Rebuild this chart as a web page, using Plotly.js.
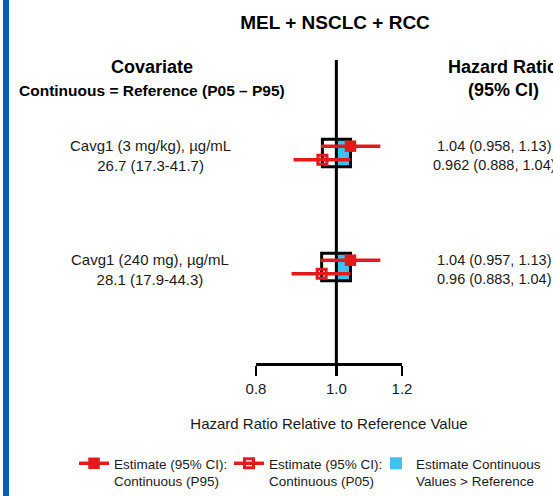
<!DOCTYPE html>
<html>
<head>
<meta charset="utf-8">
<script src="https://cdn.plot.ly/plotly-3.0.1.min.js"></script>
<style>
  html, body { margin: 0; padding: 0; background: #fff; }
  #chart { width: 553px; height: 496px; }
</style>
</head>
<body>
<div id="chart"></div>
<script>
// ---- Data ----
const covariates = ["Cavg1 (3 mg/kg), \u00b5g/mL", "Cavg1 (240 mg), \u00b5g/mL"];
const referenceValues = ["26.7 (17.3-41.7)", "28.1 (17.9-44.3)"];
const p95Estimate = [1.04, 1.04];
const p95Lower = [0.958, 0.957];
const p95Upper = [1.13, 1.13];
const p05Estimate = [0.962, 0.96];
const p05Lower = [0.888, 0.883];
const p05Upper = [1.04, 1.04];
const referenceHR = 1;
const tickValues = [0.8, 1.0, 1.2];
const tickLabels = ["0.8", "1.0", "1.2"];
const legendNames = [
  "Estimate (95% CI):<br>Continuous (P95)",
  "Estimate (95% CI):<br>Continuous (P05)",
  "Estimate Continuous<br>Values > Reference"
];

// ---- Layout helpers ----
const W = 553, H = 496;
const M = { l: 256, r: 151, t: 60, b: 133, autoexpand: false };
const PW = W - M.l - M.r, PH = H - M.t - M.b;
const px2x = px => (px - M.l) / PW;
const py2y = py => (H - M.b - py) / PH;

const RED = "#e31a1c";
const BLUE = "#41bfef";
const FONT = "Arial, 'Liberation Sans', sans-serif";
const TXT = "#1a1a1a";

const n = covariates.length;
const groupY = covariates.map((_, i) => n - i);
const rowOff = 0.06;
const yRange = [0.158, 2.816];

const traces = [];

// Blue fill: estimate above reference
traces.push({
  type: "bar", orientation: "h",
  y: groupY,
  base: p95Estimate.map(() => referenceHR),
  x: p95Estimate.map(v => v - referenceHR),
  width: 0.24,
  marker: { color: BLUE, line: { width: 0 } },
  name: legendNames[2], legend: "legend3",
  hoverinfo: "skip"
});
// Black outline box from P05 estimate to P95 estimate
traces.push({
  type: "bar", orientation: "h",
  y: groupY,
  base: p05Estimate,
  x: p95Estimate.map((v, i) => v - p05Estimate[i]),
  width: 0.24,
  marker: { color: "rgba(0,0,0,0)", line: { color: "#000", width: 3 } },
  showlegend: false, hoverinfo: "skip"
});
// Reference line at HR = 1
traces.push({
  type: "scatter", mode: "lines",
  x: [referenceHR, referenceHR], y: yRange,
  line: { color: "#000", width: 3 },
  showlegend: false, hoverinfo: "skip", cliponaxis: false
});
// Estimates with CI
for (let i = 0; i < n; i++) {
  traces.push({
    type: "scatter", mode: "lines+markers",
    x: [p95Estimate[i]], y: [groupY[i] + rowOff],
    error_x: { type: "data", symmetric: false,
      array: [p95Upper[i] - p95Estimate[i]],
      arrayminus: [p95Estimate[i] - p95Lower[i]],
      width: 0, thickness: 3.5, color: RED },
    marker: { symbol: "square", size: 11.5, color: RED },
    line: { color: RED, width: 3.5 },
    name: legendNames[0], legendgroup: "p95", showlegend: i === 0, legend: "legend",
    cliponaxis: false
  });
  traces.push({
    type: "scatter", mode: "lines+markers",
    x: [p05Estimate[i]], y: [groupY[i] - rowOff],
    error_x: { type: "data", symmetric: false,
      array: [p05Upper[i] - p05Estimate[i]],
      arrayminus: [p05Estimate[i] - p05Lower[i]],
      width: 0, thickness: 3.5, color: RED },
    marker: { symbol: "square-open", size: 9, color: RED, line: { color: RED, width: 3 } },
    line: { color: RED, width: 3.5 },
    name: legendNames[1], legendgroup: "p05", showlegend: i === 0, legend: "legend2",
    cliponaxis: false
  });
}

// ---- Annotations ----
const ann = [];
const bold = s => "<b>" + s + "</b>";
ann.push({ text: bold("Covariate"), xref: "paper", yref: "paper", x: px2x(152), y: py2y(67),
  showarrow: false, xanchor: "center", yanchor: "middle", font: { size: 18, color: "#000", family: FONT } });
ann.push({ text: bold("Continuous = Reference (P05 \u2013 P95)"), xref: "paper", yref: "paper", x: px2x(152), y: py2y(90),
  showarrow: false, xanchor: "center", yanchor: "middle", font: { size: 15.5, color: "#000", family: FONT } });
ann.push({ text: bold("Hazard Ratio"), xref: "paper", yref: "paper", x: px2x(503), y: py2y(67),
  showarrow: false, xanchor: "center", yanchor: "middle", font: { size: 18, color: "#000", family: FONT } });
ann.push({ text: bold("(95% CI)"), xref: "paper", yref: "paper", x: px2x(503), y: py2y(90),
  showarrow: false, xanchor: "center", yanchor: "middle", font: { size: 18, color: "#000", family: FONT } });

for (let i = 0; i < n; i++) {
  ann.push({ text: covariates[i] + "<br>" + referenceValues[i], xref: "paper", yref: "y",
    x: px2x(150), y: groupY[i] - 0.02, showarrow: false, xanchor: "center", yanchor: "middle",
    font: { size: 15, color: TXT, family: FONT } });
  const r1 = String(p95Estimate[i]) + " (" + String(p95Lower[i]) + ", " + String(p95Upper[i]) + ")";
  const r2 = String(p05Estimate[i]) + " (" + String(p05Lower[i]) + ", " + String(p05Upper[i]) + ")";
  ann.push({ text: r1 + "<br>" + r2, xref: "paper", yref: "y",
    x: px2x(494), y: groupY[i] - 0.02, showarrow: false, xanchor: "center", yanchor: "middle",
    font: { size: 14.5, color: TXT, family: FONT } });
}

const legendBase = {
  orientation: "v", xref: "container", yref: "container",
  xanchor: "left", y: 1 - 448 / H, yanchor: "top", valign: "top",
  font: { size: 13.5, color: TXT, family: FONT }, bgcolor: "rgba(0,0,0,0)",
  itemwidth: 30
};

const layout = {
  width: W, height: H,
  margin: M,
  paper_bgcolor: "#fff", plot_bgcolor: "rgba(0,0,0,0)",
  font: { family: FONT, color: TXT },
  title: { text: "<b>MEL + NSCLC + RCC</b>", x: 335 / W, xanchor: "center",
    y: 1 - 22 / H, yanchor: "middle", font: { size: 19, color: "#000", family: FONT } },
  barmode: "overlay",
  xaxis: {
    type: "log",
    range: [Math.log10(0.8), Math.log10(1.2)],
    tickvals: tickValues, ticktext: tickLabels,
    showline: true, linecolor: "#000", linewidth: 2.5,
    ticks: "outside", ticklen: 10, tickwidth: 2.5, tickcolor: "#000",
    tickfont: { size: 15, color: TXT, family: FONT },
    showgrid: false, zeroline: false, fixedrange: true,
    title: { text: "Hazard Ratio Relative to Reference Value", standoff: 23,
      font: { size: 15, color: TXT, family: FONT } }
  },
  yaxis: { range: yRange, visible: false, fixedrange: true },
  showlegend: true,
  legend: Object.assign({}, legendBase, { x: 74 / W }),
  legend2: Object.assign({}, legendBase, { x: 229 / W }),
  legend3: Object.assign({}, legendBase, { x: 376 / W }),
  annotations: ann,
  shapes: [{
    type: "rect", xref: "paper", yref: "paper", layer: "above",
    x0: px2x(3), x1: px2x(9), y0: py2y(H), y1: py2y(0),
    fillcolor: "#0b5fae", line: { width: 0 }
  }]
};

Plotly.newPlot("chart", traces, layout, { displayModeBar: false, staticPlot: true });
</script>
</body>
</html>
